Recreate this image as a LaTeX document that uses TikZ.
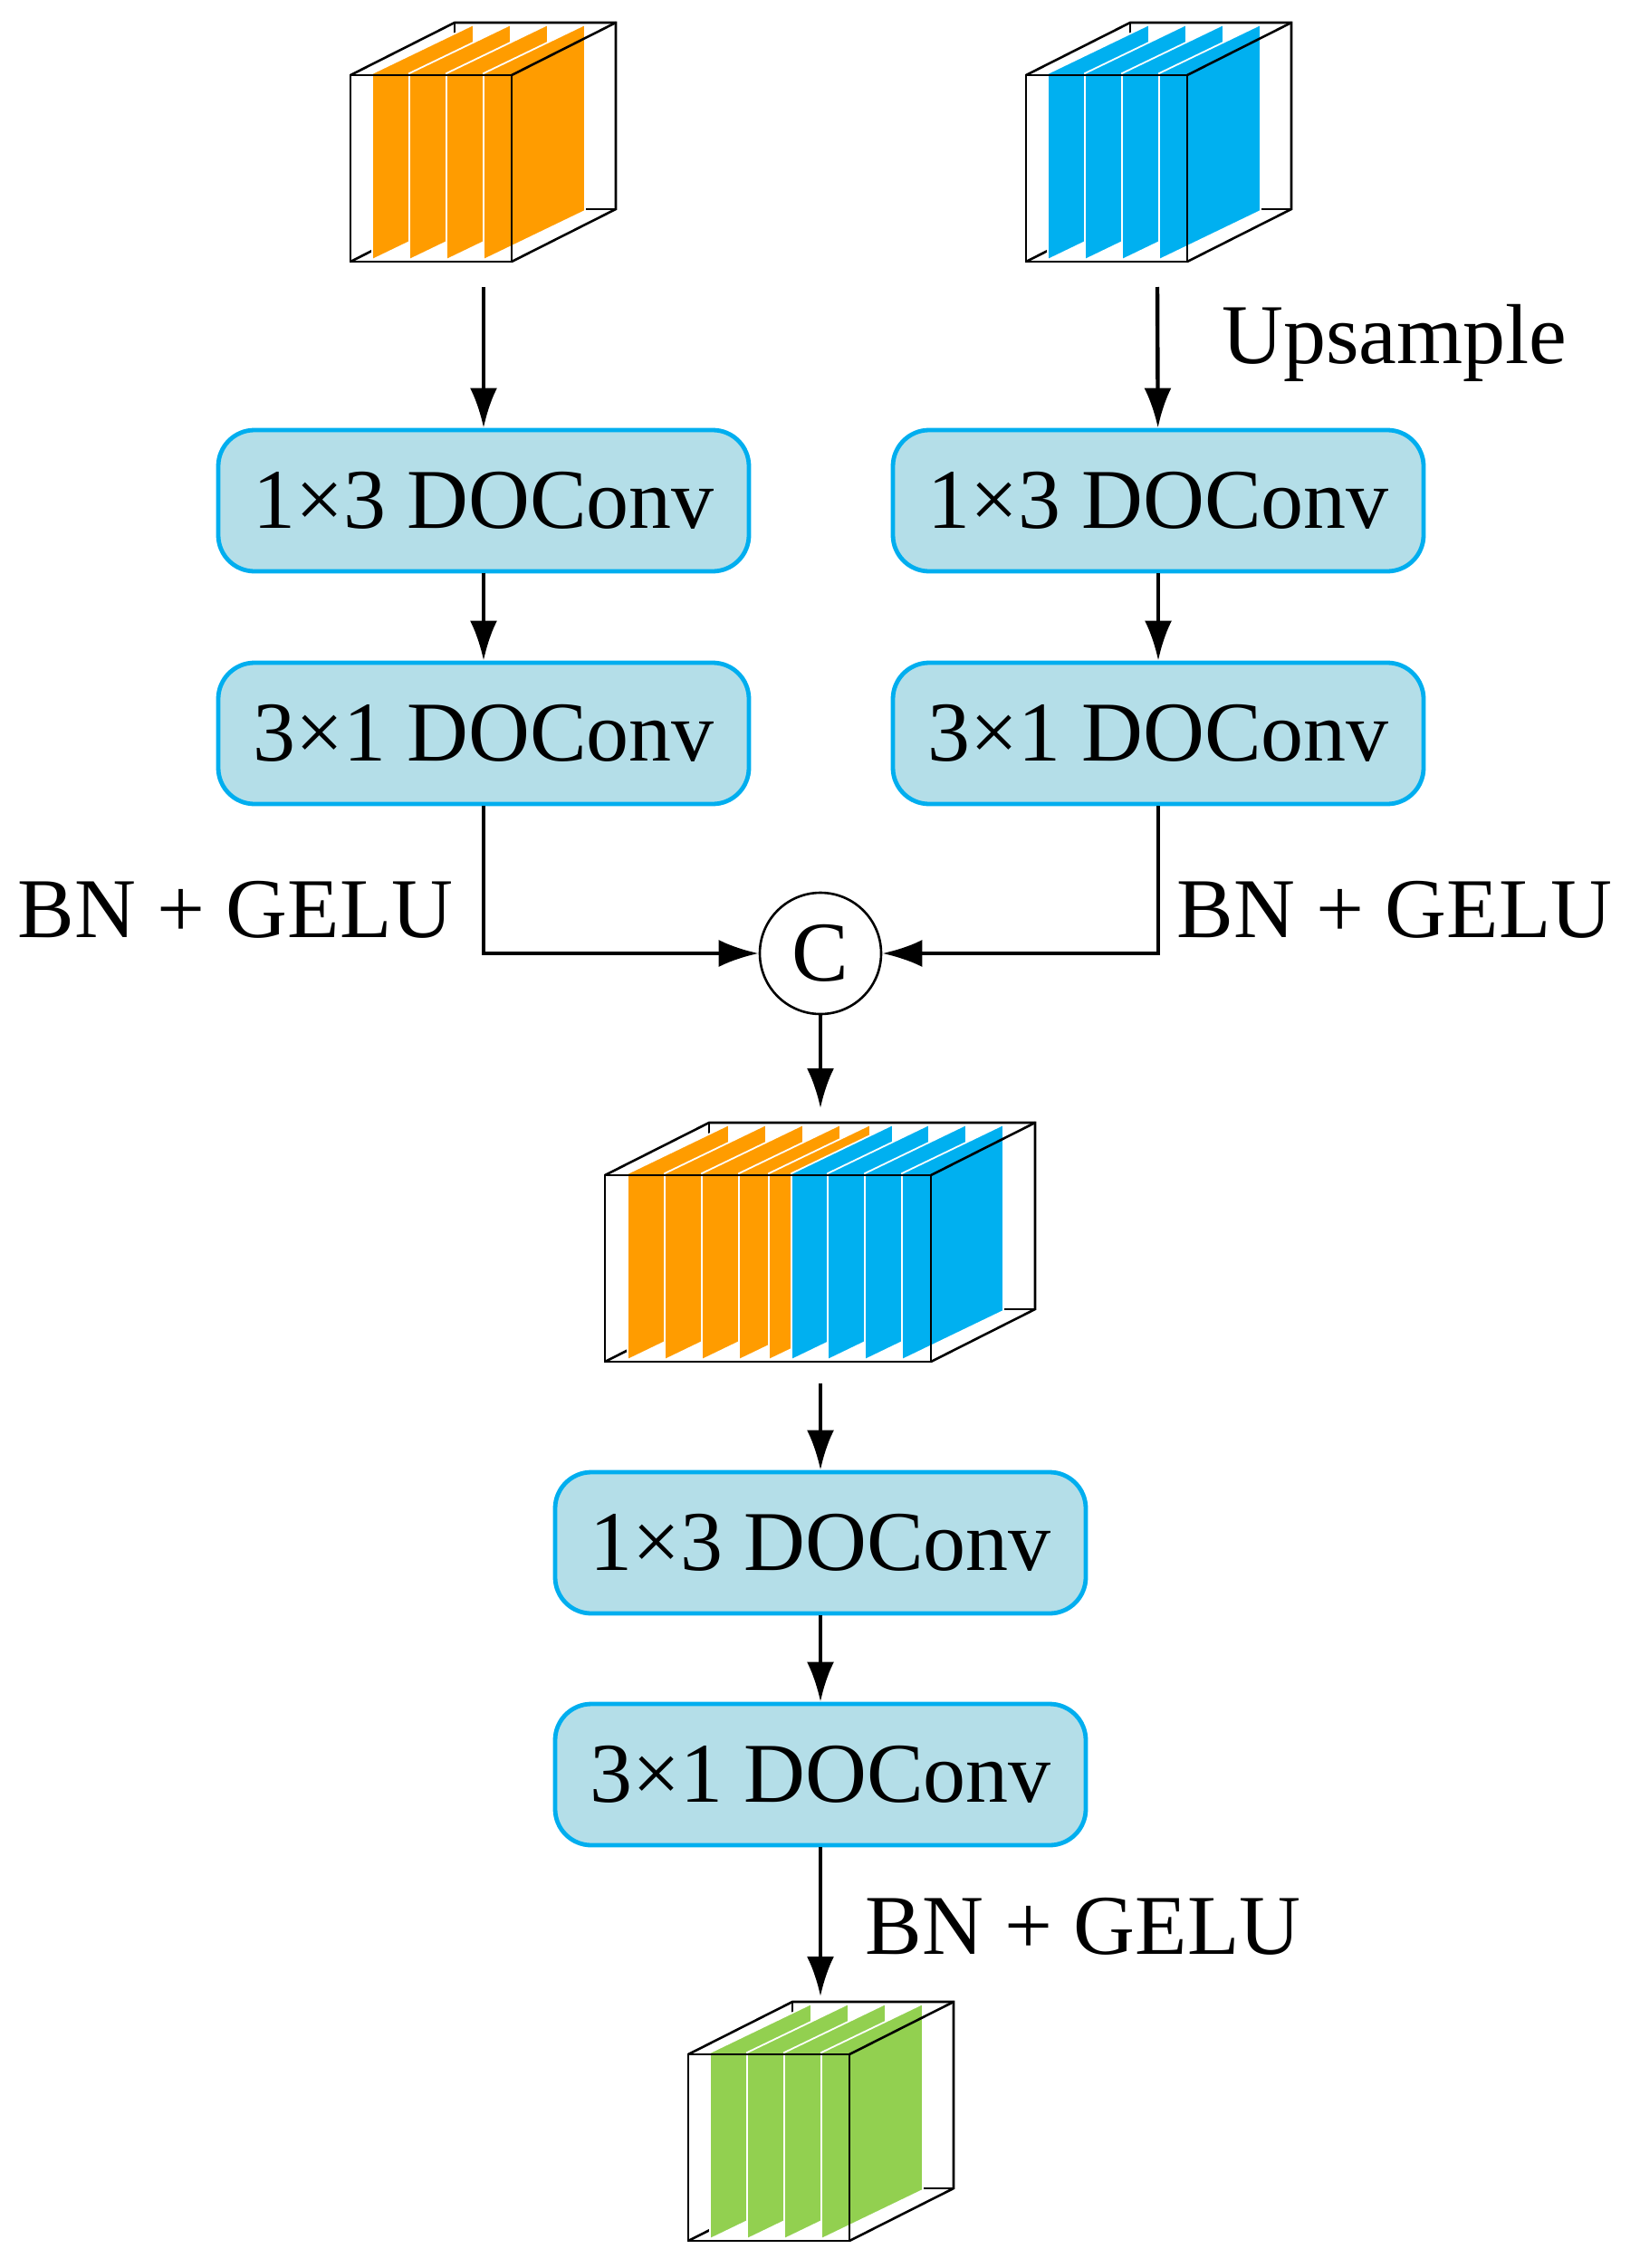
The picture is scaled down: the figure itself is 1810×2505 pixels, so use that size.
\documentclass[tikz,border=0pt]{standalone}
\usepackage{fontspec}
\setmainfont{Liberation Serif}
\usetikzlibrary{arrows.meta}
\definecolor{cor}{HTML}{FF9C00}
\definecolor{cbl}{HTML}{00B0F0}
\definecolor{cgr}{HTML}{92D050}
\definecolor{bfill}{HTML}{B4DEE8}
\definecolor{bline}{HTML}{00AEEF}
\tikzset{
  box/.style={draw=bline,line width=2.4pt,fill=bfill,rounded corners=20pt,minimum width=293pt,minimum height=78pt,inner sep=0pt,font=\fontsize{47}{56}\selectfont},
  lbl/.style={font=\fontsize{47}{56}\selectfont,inner sep=0pt},
  arr/.style={line width=2.2pt,-{Latex[length=22pt,width=15pt]}},
  edge/.style={line width=1.3pt,line join=miter},
  plane/.style={draw=white,line width=0.9pt}
}
% #1 x, #2 y, #3 width, #4 list offset/color
\newcommand\fmcube[4]{%
  \draw[edge] (#1+115,#2-58) rectangle (#1+#3+115,#2+148);
  \draw[edge] (#1,#2+206) -- (#1+115,#2+148);
  \foreach \o/\c in {#4}{
    \fill[\c,plane] (#1+\o,#2+204) -- (#1+\o,#2-2) -- (#1+\o+112,#2-56) -- (#1+\o+112,#2+150) -- cycle;}
  \draw[edge] (#1,#2) -- (#1+115,#2-58) -- (#1+#3+115,#2-58) -- (#1+#3+115,#2+148) -- (#1+#3,#2+206);
  \draw[edge] (#1+#3,#2) -- (#1+#3+115,#2-58);
  \draw[edge] (#1,#2) rectangle (#1+#3,#2+206);
}
\begin{document}
\begin{tikzpicture}[x=0.5pt,y=-0.5pt]
\useasboundingbox (0,0) rectangle (1810,2505);
% cubes
\fmcube{387}{83}{178}{24/cor,65/cor,106/cor,147/cor}
\fmcube{1133}{83}{178}{24/cbl,65/cbl,106/cbl,147/cbl}
\fmcube{668}{1298}{360}{25/cor,66/cor,107/cor,148/cor,181/cor,206/cbl,246/cbl,287/cbl,328/cbl}
\fmcube{760}{2269}{178}{24/cgr,65/cgr,106/cgr,147/cgr}
\coordinate (c1) at (534,317);
\coordinate (c2) at (1278,317);
\coordinate (c3t) at (906,1224);
\coordinate (c3b) at (906,1528);
\coordinate (c4) at (906,2205);
% boxes
\node[box] (a1) at (534,553) {1×3 DOConv};
\node[box] (a2) at (534,810) {3×1 DOConv};
\node[box] (b1) at (1279,553) {1×3 DOConv};
\node[box] (b2) at (1279,810) {3×1 DOConv};
\node[box] (d1) at (906,1704) {1×3 DOConv};
\node[box] (d2) at (906,1960) {3×1 DOConv};
\node[draw,circle,line width=1.3pt,minimum size=67pt,inner sep=0pt,font=\fontsize{47}{56}\selectfont] (cc) at (906,1053) {C};
% labels
\node[lbl,anchor=west] (up) at (1349,379) {Upsample};
\node[lbl,anchor=west] (bl) at (19,1005) {BN + GELU};
\node[lbl,anchor=west] (br) at (1299,1005) {BN + GELU};
\node[lbl,anchor=west] (bb) at (955,2128) {BN + GELU};
% arrows
\draw[arr] (c1) -- (a1);
\draw[arr] (c2) -- (b1);
\draw[arr] (a1) -- (a2);
\draw[arr] (b1) -- (b2);
\draw[arr] (a2.south) |- (cc.west);
\draw[arr] (b2.south) |- (cc.east);
\draw[arr] (cc) -- (c3t);
\draw[arr] (c3b) -- (d1);
\draw[arr] (d1) -- (d2);
\draw[arr] (d2) -- (c4);
\end{tikzpicture}
\end{document}
